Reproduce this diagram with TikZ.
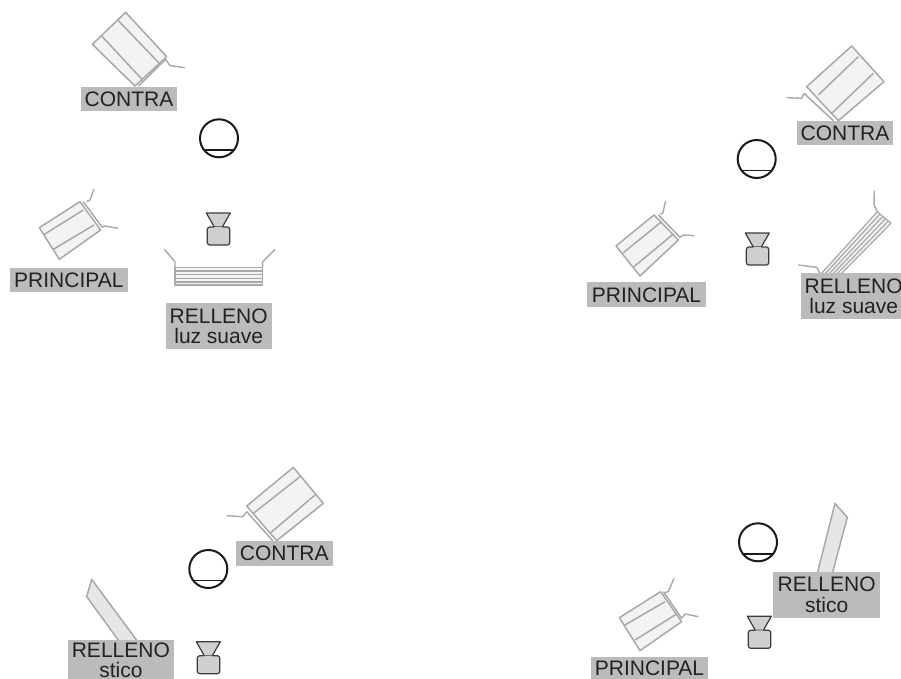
\documentclass[tikz,border=0pt]{standalone}
\usepackage{fontspec}
\setmainfont{Liberation Sans}
\definecolor{lampedge}{HTML}{A8A8A8}
\definecolor{lampbody}{HTML}{F3F3F3}
\definecolor{softbody}{HTML}{E6E6E6}
\definecolor{tagfill}{HTML}{BBBBBB}
\definecolor{tagtext}{HTML}{222222}
\definecolor{camfill}{HTML}{CFCFCF}
\definecolor{inkdark}{HTML}{1A1A1A}
\tikzset{
  lampline/.style={draw=lampedge,line width=1.5pt,line join=round},
  lampfill/.style={lampline,fill=lampbody},
  softfill/.style={lampline,fill=softbody},
  doorline/.style={draw=lampedge,line width=1.4pt,line join=round},
  tag/.style={fill=tagfill,text=tagtext,inner sep=0pt,align=center,font=\fontsize{21}{20.7}\selectfont},
  headball/.style={circle,draw=inkdark,fill=white,line width=2pt,minimum size=38pt,inner sep=0pt},
  camline/.style={draw=inkdark!85,fill=camfill,line width=1.2pt,line join=round}
}
\newcommand{\tagbox}[6]{%
  \node[tag,minimum width=#4pt-#2pt,minimum height=#5pt-#3pt,anchor=center] (#1)
    at ({(#2+#4)/2},{(#3+#5)/2}) {#6};}
\newcommand{\subject}[5]{% name, head x,y, cam x, cam top y
  \node[headball] (head#1) at (#2,#3) {};
  \draw[inkdark,line width=1.8pt] ([shift={(-15.8pt,-11.5pt)}]head#1.center) -- ([shift={(15.8pt,-11.5pt)}]head#1.center);
  \begin{scope}[shift={(#4,#5)}]
    \draw[camline] (-12,-1) -- (12,-1) -- (4,13) -- (-4,13) -- cycle;
    \draw[camline,rounded corners=2.5pt] (-4,13) -- (-11,13) -- (-11,31) -- (11.5,31) -- (11.5,13) -- (4,13);
  \end{scope}}
\begin{document}
\begin{tikzpicture}[x=1pt,y=-1pt]
\useasboundingbox (0,0) rectangle (901,679);
\clip (0,0) rectangle (901,679);

% ---------- panel 1 ----------
\begin{scope}[x=0.33333pt,y=-0.33333pt]
  \draw[lampfill] (377,37) -- (500,170) -- (405,258) -- (277,133) -- cycle;
  \draw[lampline] (355,62) -- (478,190) (305,108) -- (428,240) (497,178) -- (415,258);
  \draw[doorline] (497,178) -- (510,197) -- (555,203);
  \draw[lampfill] (240,605) -- (302,690) -- (178,778) -- (118,683) -- cycle;
  \draw[lampline] (133,703) -- (250,630) (160,748) -- (282,675) (250,605) -- (305,680);
  \draw[doorline] (260,605) -- (270,600) -- (282,567) (305,682) -- (315,678) -- (355,685);
  \draw[lampfill] (525,802) rectangle (788,855);
  \draw[lampline] (525,813) -- (788,813) (525,824) -- (788,824) (525,835) -- (788,835) (525,846) -- (788,846);
  \draw[doorline] (525,802) -- (525,785) -- (493,748) (788,802) -- (788,785) -- (825,748);
\end{scope}
\subject{A}{219}{138.3}{218.3}{214}
\tagbox{contraA}{80.7}{87.3}{177.3}{111}{CONTRA}
\tagbox{principalA}{10}{267.7}{127.7}{292.3}{PRINCIPAL}
\tagbox{rellenoA}{165.7}{303.3}{271.7}{349}{RELLENO\\luz suave}

% ---------- panel 2 ----------
\begin{scope}[shift={(580,30)},x=0.33333pt,y=-0.33333pt]
  \draw[lampfill] (815,48) -- (912,155) -- (775,272) -- (680,170) -- cycle;
  \draw[lampline] (835,80) -- (715,195) (880,130) -- (755,250) (672,190) -- (760,272);
  \draw[doorline] (672,190) -- (665,205) -- (620,203);
  \draw[lampfill] (222,555) -- (295,630) -- (180,738) -- (108,648) -- cycle;
  \draw[lampline] (130,668) -- (245,575) (162,710) -- (280,612) (235,555) -- (300,622);
  \draw[doorline] (240,552) -- (248,550) -- (257,513) (300,622) -- (310,615) -- (343,617);
\end{scope}
\draw[lampfill,line width=1.2pt] (877.3,211.7) -- (891,223.3) -- (840,275) -- (820,275) -- cycle;
\draw[lampline,line width=1.2pt] (880,214) -- (824,275) (882.8,216.3) -- (828,275) (885.5,218.7) -- (832,275) (888.3,221) -- (836,275);
\draw[doorline] (877.3,211.7) -- (874,205) -- (874.3,190.7) (820,273.3) -- (816.7,267.3) -- (798.3,265);
\subject{B}{756.7}{159}{757.3}{234}
\tagbox{contraB}{796.7}{120.7}{893.3}{145}{CONTRA}
\tagbox{principalB}{587.3}{282.3}{705.7}{307.3}{PRINCIPAL}
\tagbox{rellenoB}{800.7}{273.3}{906.7}{319.3}{RELLENO\\luz suave}

% ---------- panel 3 ----------
\begin{scope}[shift={(50,450)},x=0.33333pt,y=-0.33333pt]
  \draw[lampfill] (730,52) -- (820,160) -- (680,272) -- (590,168) -- cycle;
  \draw[lampline] (750,80) -- (610,190) (795,135) -- (660,250) (590,185) -- (668,272);
  \draw[doorline] (590,185) -- (578,200) -- (530,197);
  \draw[softfill] (125,388) -- (110,440) -- (212,580) -- (267,580) -- cycle;
\end{scope}
\subject{C}{208.3}{569}{208.3}{642.7}
\tagbox{contraC}{235.7}{541}{332.7}{566}{CONTRA}
\tagbox{rellenoC}{67.7}{639.7}{174}{681}{RELLENO\\stico}

% ---------- panel 4 ----------
\begin{scope}[shift={(580,490)},x=0.33333pt,y=-0.33333pt]
  \draw[softfill] (765,40) -- (802,82) -- (757,250) -- (712,250) -- cycle;
  \draw[lampfill] (242,305) -- (305,395) -- (180,482) -- (118,383) -- cycle;
  \draw[lampline] (135,405) -- (255,335) (165,450) -- (290,372) (250,305) -- (305,385);
  \draw[doorline] (253,308) -- (265,305) -- (282,265) (305,385) -- (315,372) -- (355,380);
\end{scope}
\subject{D}{758}{542.3}{759.3}{617.3}
\tagbox{rellenoD}{773.3}{572}{880}{617.7}{RELLENO\\stico}
\tagbox{principalD}{590.7}{657}{708.3}{680}{PRINCIPAL}
\end{tikzpicture}
\end{document}
